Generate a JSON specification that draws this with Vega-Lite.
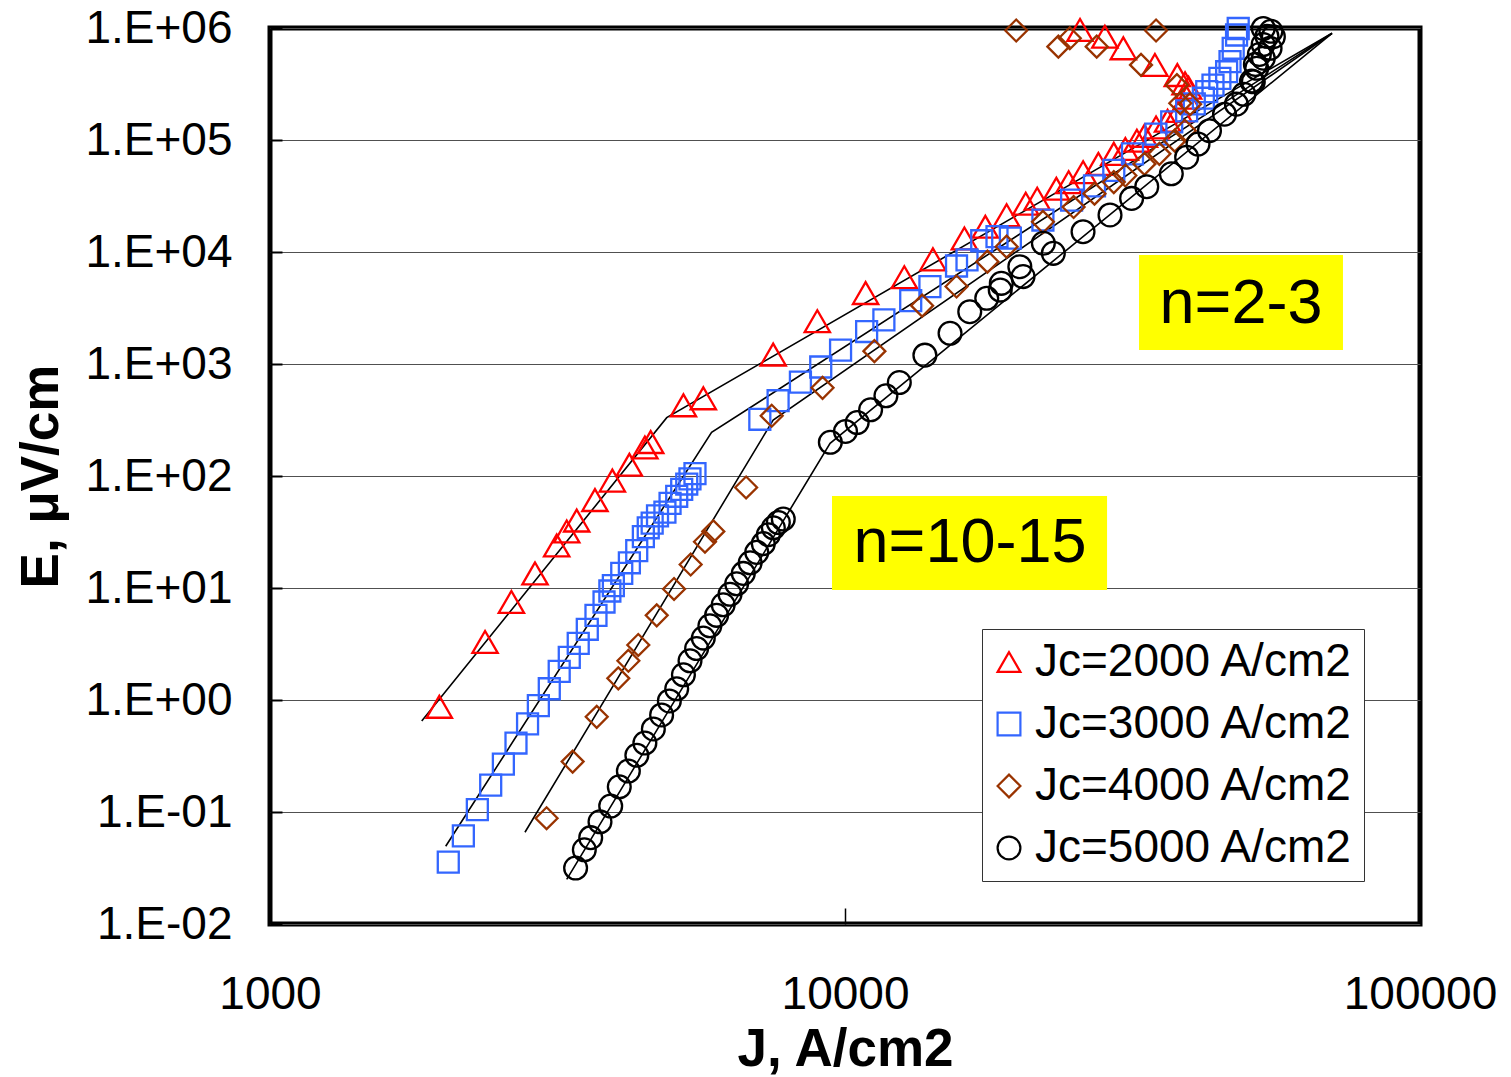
{
 "$schema": "https://vega.github.io/schema/vega-lite/v6.json",
 "width": 1150,
 "height": 896,
 "autosize": {"type": "none"},
 "padding": {"left": 270, "top": 28, "right": 91, "bottom": 153},
 "background": "#FFFFFF",
 "config": {"font": "Liberation Sans", "view": {"stroke": "#000000", "strokeWidth": 5}},
 "datasets": {
  "boxes": [
   {"label": "n=2-3", "J": 32460, "J2": 73460, "E": 9400, "E2": 1334},
   {"label": "n=10-15", "J": 9493, "J2": 28560, "E": 66.3, "E2": 9.6}
  ],
  "notes": [
   {"label": "n=2-3", "J": 48830, "E": 3435},
   {"label": "n=10-15", "J": 16500, "E": 25.2}
  ],
  "fits": [
   {"fit": "2000", "J": 1836, "E": 0.649}, {"fit": "2000", "J": 4897, "E": 332}, {"fit": "2000", "J": 70300, "E": 897000},
   {"fit": "3000", "J": 2021, "E": 0.0494}, {"fit": "3000", "J": 5861, "E": 245}, {"fit": "3000", "J": 70300, "E": 897000},
   {"fit": "4000", "J": 2776, "E": 0.0659}, {"fit": "4000", "J": 7500, "E": 316}, {"fit": "4000", "J": 70300, "E": 897000},
   {"fit": "5000", "J": 3281, "E": 0.025}, {"fit": "5000", "J": 9420, "E": 196}, {"fit": "5000", "J": 70300, "E": 897000}
  ],
  "pts": [
   {"s": "Jc=2000 A/cm2", "J": 1970, "E": 0.87},
   {"s": "Jc=2000 A/cm2", "J": 2366, "E": 3.3},
   {"s": "Jc=2000 A/cm2", "J": 2629, "E": 7.5},
   {"s": "Jc=2000 A/cm2", "J": 2890, "E": 13.5},
   {"s": "Jc=2000 A/cm2", "J": 3152, "E": 24},
   {"s": "Jc=2000 A/cm2", "J": 3281, "E": 32},
   {"s": "Jc=2000 A/cm2", "J": 3415, "E": 40},
   {"s": "Jc=2000 A/cm2", "J": 3674, "E": 61},
   {"s": "Jc=2000 A/cm2", "J": 3939, "E": 91},
   {"s": "Jc=2000 A/cm2", "J": 4217, "E": 126},
   {"s": "Jc=2000 A/cm2", "J": 4487, "E": 180},
   {"s": "Jc=2000 A/cm2", "J": 4593, "E": 201},
   {"s": "Jc=2000 A/cm2", "J": 5236, "E": 428},
   {"s": "Jc=2000 A/cm2", "J": 5670, "E": 494},
   {"s": "Jc=2000 A/cm2", "J": 7500, "E": 1214},
   {"s": "Jc=2000 A/cm2", "J": 8950, "E": 2410},
   {"s": "Jc=2000 A/cm2", "J": 10860, "E": 4300},
   {"s": "Jc=2000 A/cm2", "J": 12680, "E": 5960},
   {"s": "Jc=2000 A/cm2", "J": 14220, "E": 8600},
   {"s": "Jc=2000 A/cm2", "J": 16130, "E": 13200},
   {"s": "Jc=2000 A/cm2", "J": 17540, "E": 16800},
   {"s": "Jc=2000 A/cm2", "J": 19100, "E": 21300},
   {"s": "Jc=2000 A/cm2", "J": 20620, "E": 27000},
   {"s": "Jc=2000 A/cm2", "J": 21590, "E": 29900},
   {"s": "Jc=2000 A/cm2", "J": 23310, "E": 36700},
   {"s": "Jc=2000 A/cm2", "J": 24490, "E": 42000},
   {"s": "Jc=2000 A/cm2", "J": 25950, "E": 51600},
   {"s": "Jc=2000 A/cm2", "J": 27590, "E": 61200},
   {"s": "Jc=2000 A/cm2", "J": 29340, "E": 75200},
   {"s": "Jc=2000 A/cm2", "J": 30730, "E": 83200},
   {"s": "Jc=2000 A/cm2", "J": 32180, "E": 98600},
   {"s": "Jc=2000 A/cm2", "J": 33170, "E": 109000},
   {"s": "Jc=2000 A/cm2", "J": 34750, "E": 129500},
   {"s": "Jc=2000 A/cm2", "J": 36390, "E": 148500},
   {"s": "Jc=2000 A/cm2", "J": 38110, "E": 182000},
   {"s": "Jc=2000 A/cm2", "J": 39280, "E": 239000},
   {"s": "Jc=2000 A/cm2", "J": 39580, "E": 293000},
   {"s": "Jc=2000 A/cm2", "J": 39030, "E": 321000},
   {"s": "Jc=2000 A/cm2", "J": 37840, "E": 380000},
   {"s": "Jc=2000 A/cm2", "J": 34590, "E": 468000},
   {"s": "Jc=2000 A/cm2", "J": 30480, "E": 659000},
   {"s": "Jc=2000 A/cm2", "J": 28310, "E": 836000},
   {"s": "Jc=2000 A/cm2", "J": 25630, "E": 960000},
   {"s": "Jc=3000 A/cm2", "J": 2042, "E": 0.0357},
   {"s": "Jc=3000 A/cm2", "J": 2169, "E": 0.0613},
   {"s": "Jc=3000 A/cm2", "J": 2294, "E": 0.105},
   {"s": "Jc=3000 A/cm2", "J": 2420, "E": 0.174},
   {"s": "Jc=3000 A/cm2", "J": 2546, "E": 0.268},
   {"s": "Jc=3000 A/cm2", "J": 2678, "E": 0.413},
   {"s": "Jc=3000 A/cm2", "J": 2805, "E": 0.613},
   {"s": "Jc=3000 A/cm2", "J": 2929, "E": 0.891},
   {"s": "Jc=3000 A/cm2", "J": 3060, "E": 1.26},
   {"s": "Jc=3000 A/cm2", "J": 3184, "E": 1.8},
   {"s": "Jc=3000 A/cm2", "J": 3315, "E": 2.4},
   {"s": "Jc=3000 A/cm2", "J": 3436, "E": 3.2},
   {"s": "Jc=3000 A/cm2", "J": 3563, "E": 4.28},
   {"s": "Jc=3000 A/cm2", "J": 3689, "E": 5.7},
   {"s": "Jc=3000 A/cm2", "J": 3810, "E": 7.5},
   {"s": "Jc=3000 A/cm2", "J": 3900, "E": 9.4},
   {"s": "Jc=3000 A/cm2", "J": 3955, "E": 10.5},
   {"s": "Jc=3000 A/cm2", "J": 4090, "E": 13.5},
   {"s": "Jc=3000 A/cm2", "J": 4217, "E": 16.8},
   {"s": "Jc=3000 A/cm2", "J": 4343, "E": 21.6},
   {"s": "Jc=3000 A/cm2", "J": 4460, "E": 28.8},
   {"s": "Jc=3000 A/cm2", "J": 4548, "E": 34.5},
   {"s": "Jc=3000 A/cm2", "J": 4620, "E": 38},
   {"s": "Jc=3000 A/cm2", "J": 4720, "E": 44},
   {"s": "Jc=3000 A/cm2", "J": 4862, "E": 47.6},
   {"s": "Jc=3000 A/cm2", "J": 4963, "E": 57},
   {"s": "Jc=3000 A/cm2", "J": 5097, "E": 65.9},
   {"s": "Jc=3000 A/cm2", "J": 5200, "E": 76},
   {"s": "Jc=3000 A/cm2", "J": 5306, "E": 84.8},
   {"s": "Jc=3000 A/cm2", "J": 5375, "E": 94.4},
   {"s": "Jc=3000 A/cm2", "J": 5484, "E": 105},
   {"s": "Jc=3000 A/cm2", "J": 7110, "E": 321},
   {"s": "Jc=3000 A/cm2", "J": 7650, "E": 470},
   {"s": "Jc=3000 A/cm2", "J": 8365, "E": 690},
   {"s": "Jc=3000 A/cm2", "J": 9074, "E": 940},
   {"s": "Jc=3000 A/cm2", "J": 9824, "E": 1330},
   {"s": "Jc=3000 A/cm2", "J": 10905, "E": 1950},
   {"s": "Jc=3000 A/cm2", "J": 11685, "E": 2480},
   {"s": "Jc=3000 A/cm2", "J": 13010, "E": 3680},
   {"s": "Jc=3000 A/cm2", "J": 14050, "E": 4900},
   {"s": "Jc=3000 A/cm2", "J": 15630, "E": 7500},
   {"s": "Jc=3000 A/cm2", "J": 16300, "E": 8500},
   {"s": "Jc=3000 A/cm2", "J": 17290, "E": 12600},
   {"s": "Jc=3000 A/cm2", "J": 18380, "E": 13700},
   {"s": "Jc=3000 A/cm2", "J": 19390, "E": 13300},
   {"s": "Jc=3000 A/cm2", "J": 22090, "E": 19300},
   {"s": "Jc=3000 A/cm2", "J": 24780, "E": 29000},
   {"s": "Jc=3000 A/cm2", "J": 27160, "E": 39000},
   {"s": "Jc=3000 A/cm2", "J": 29340, "E": 53500},
   {"s": "Jc=3000 A/cm2", "J": 31620, "E": 75100},
   {"s": "Jc=3000 A/cm2", "J": 34730, "E": 113000},
   {"s": "Jc=3000 A/cm2", "J": 37000, "E": 145000},
   {"s": "Jc=3000 A/cm2", "J": 39280, "E": 182000},
   {"s": "Jc=3000 A/cm2", "J": 40500, "E": 210000},
   {"s": "Jc=3000 A/cm2", "J": 42000, "E": 236000},
   {"s": "Jc=3000 A/cm2", "J": 42570, "E": 270000},
   {"s": "Jc=3000 A/cm2", "J": 43650, "E": 309000},
   {"s": "Jc=3000 A/cm2", "J": 44870, "E": 355000},
   {"s": "Jc=3000 A/cm2", "J": 46100, "E": 407000},
   {"s": "Jc=3000 A/cm2", "J": 46730, "E": 501000},
   {"s": "Jc=3000 A/cm2", "J": 47330, "E": 659000},
   {"s": "Jc=3000 A/cm2", "J": 47970, "E": 866000},
   {"s": "Jc=3000 A/cm2", "J": 48290, "E": 990000},
   {"s": "Jc=4000 A/cm2", "J": 3027, "E": 0.088},
   {"s": "Jc=4000 A/cm2", "J": 3360, "E": 0.282},
   {"s": "Jc=4000 A/cm2", "J": 3700, "E": 0.708},
   {"s": "Jc=4000 A/cm2", "J": 4034, "E": 1.56},
   {"s": "Jc=4000 A/cm2", "J": 4200, "E": 2.24},
   {"s": "Jc=4000 A/cm2", "J": 4370, "E": 3.1},
   {"s": "Jc=4000 A/cm2", "J": 4705, "E": 5.7},
   {"s": "Jc=4000 A/cm2", "J": 5043, "E": 9.8},
   {"s": "Jc=4000 A/cm2", "J": 5390, "E": 16.2},
   {"s": "Jc=4000 A/cm2", "J": 5708, "E": 25.9},
   {"s": "Jc=4000 A/cm2", "J": 5902, "E": 32},
   {"s": "Jc=4000 A/cm2", "J": 6730, "E": 79},
   {"s": "Jc=4000 A/cm2", "J": 7456, "E": 345},
   {"s": "Jc=4000 A/cm2", "J": 9140, "E": 613},
   {"s": "Jc=4000 A/cm2", "J": 11250, "E": 1303},
   {"s": "Jc=4000 A/cm2", "J": 13620, "E": 3320},
   {"s": "Jc=4000 A/cm2", "J": 15630, "E": 4920},
   {"s": "Jc=4000 A/cm2", "J": 17690, "E": 8200},
   {"s": "Jc=4000 A/cm2", "J": 19100, "E": 11150},
   {"s": "Jc=4000 A/cm2", "J": 22090, "E": 18580},
   {"s": "Jc=4000 A/cm2", "J": 24980, "E": 25200},
   {"s": "Jc=4000 A/cm2", "J": 27160, "E": 33200},
   {"s": "Jc=4000 A/cm2", "J": 29340, "E": 42100},
   {"s": "Jc=4000 A/cm2", "J": 30730, "E": 48200},
   {"s": "Jc=4000 A/cm2", "J": 33170, "E": 61200},
   {"s": "Jc=4000 A/cm2", "J": 35220, "E": 75200},
   {"s": "Jc=4000 A/cm2", "J": 37450, "E": 98600},
   {"s": "Jc=4000 A/cm2", "J": 38990, "E": 121000},
   {"s": "Jc=4000 A/cm2", "J": 39820, "E": 209000},
   {"s": "Jc=4000 A/cm2", "J": 38290, "E": 213000},
   {"s": "Jc=4000 A/cm2", "J": 37780, "E": 309000},
   {"s": "Jc=4000 A/cm2", "J": 32720, "E": 468000},
   {"s": "Jc=4000 A/cm2", "J": 27400, "E": 681000},
   {"s": "Jc=4000 A/cm2", "J": 24600, "E": 810000},
   {"s": "Jc=4000 A/cm2", "J": 23500, "E": 681000},
   {"s": "Jc=4000 A/cm2", "J": 19850, "E": 950000},
   {"s": "Jc=4000 A/cm2", "J": 34750, "E": 950000},
   {"s": "Jc=5000 A/cm2", "J": 3400, "E": 0.0316},
   {"s": "Jc=5000 A/cm2", "J": 3521, "E": 0.046},
   {"s": "Jc=5000 A/cm2", "J": 3612, "E": 0.059},
   {"s": "Jc=5000 A/cm2", "J": 3749, "E": 0.0818},
   {"s": "Jc=5000 A/cm2", "J": 3913, "E": 0.113},
   {"s": "Jc=5000 A/cm2", "J": 4050, "E": 0.168},
   {"s": "Jc=5000 A/cm2", "J": 4200, "E": 0.232},
   {"s": "Jc=5000 A/cm2", "J": 4345, "E": 0.321},
   {"s": "Jc=5000 A/cm2", "J": 4487, "E": 0.413},
   {"s": "Jc=5000 A/cm2", "J": 4642, "E": 0.551},
   {"s": "Jc=5000 A/cm2", "J": 4798, "E": 0.735},
   {"s": "Jc=5000 A/cm2", "J": 4949, "E": 0.98},
   {"s": "Jc=5000 A/cm2", "J": 5097, "E": 1.26},
   {"s": "Jc=5000 A/cm2", "J": 5236, "E": 1.68},
   {"s": "Jc=5000 A/cm2", "J": 5376, "E": 2.24},
   {"s": "Jc=5000 A/cm2", "J": 5520, "E": 2.88},
   {"s": "Jc=5000 A/cm2", "J": 5670, "E": 3.57},
   {"s": "Jc=5000 A/cm2", "J": 5821, "E": 4.6},
   {"s": "Jc=5000 A/cm2", "J": 5980, "E": 5.7},
   {"s": "Jc=5000 A/cm2", "J": 6140, "E": 7.08},
   {"s": "Jc=5000 A/cm2", "J": 6310, "E": 8.79},
   {"s": "Jc=5000 A/cm2", "J": 6480, "E": 10.9},
   {"s": "Jc=5000 A/cm2", "J": 6655, "E": 13.5},
   {"s": "Jc=5000 A/cm2", "J": 6840, "E": 16.8},
   {"s": "Jc=5000 A/cm2", "J": 7023, "E": 20.8},
   {"s": "Jc=5000 A/cm2", "J": 7210, "E": 24.9},
   {"s": "Jc=5000 A/cm2", "J": 7358, "E": 29.9},
   {"s": "Jc=5000 A/cm2", "J": 7506, "E": 34.5},
   {"s": "Jc=5000 A/cm2", "J": 7657, "E": 38.4},
   {"s": "Jc=5000 A/cm2", "J": 7810, "E": 41.3},
   {"s": "Jc=5000 A/cm2", "J": 9430, "E": 200},
   {"s": "Jc=5000 A/cm2", "J": 10020, "E": 250},
   {"s": "Jc=5000 A/cm2", "J": 10500, "E": 300},
   {"s": "Jc=5000 A/cm2", "J": 11080, "E": 390},
   {"s": "Jc=5000 A/cm2", "J": 11780, "E": 520},
   {"s": "Jc=5000 A/cm2", "J": 12430, "E": 683},
   {"s": "Jc=5000 A/cm2", "J": 13770, "E": 1200},
   {"s": "Jc=5000 A/cm2", "J": 15230, "E": 1880},
   {"s": "Jc=5000 A/cm2", "J": 16480, "E": 2930},
   {"s": "Jc=5000 A/cm2", "J": 17640, "E": 3860},
   {"s": "Jc=5000 A/cm2", "J": 18620, "E": 4570},
   {"s": "Jc=5000 A/cm2", "J": 18700, "E": 5250},
   {"s": "Jc=5000 A/cm2", "J": 20140, "E": 7390},
   {"s": "Jc=5000 A/cm2", "J": 20400, "E": 6030},
   {"s": "Jc=5000 A/cm2", "J": 22130, "E": 11970},
   {"s": "Jc=5000 A/cm2", "J": 23030, "E": 9730},
   {"s": "Jc=5000 A/cm2", "J": 25940, "E": 15170},
   {"s": "Jc=5000 A/cm2", "J": 28900, "E": 21400},
   {"s": "Jc=5000 A/cm2", "J": 31510, "E": 30100},
   {"s": "Jc=5000 A/cm2", "J": 33480, "E": 38300},
   {"s": "Jc=5000 A/cm2", "J": 36940, "E": 49900},
   {"s": "Jc=5000 A/cm2", "J": 39280, "E": 70200},
   {"s": "Jc=5000 A/cm2", "J": 41110, "E": 92000},
   {"s": "Jc=5000 A/cm2", "J": 43040, "E": 121000},
   {"s": "Jc=5000 A/cm2", "J": 45710, "E": 170000},
   {"s": "Jc=5000 A/cm2", "J": 47940, "E": 209000},
   {"s": "Jc=5000 A/cm2", "J": 49390, "E": 256000},
   {"s": "Jc=5000 A/cm2", "J": 50940, "E": 336000},
   {"s": "Jc=5000 A/cm2", "J": 51730, "E": 473000},
   {"s": "Jc=5000 A/cm2", "J": 52560, "E": 580000},
   {"s": "Jc=5000 A/cm2", "J": 53360, "E": 711000},
   {"s": "Jc=5000 A/cm2", "J": 54180, "E": 843000},
   {"s": "Jc=5000 A/cm2", "J": 55050, "E": 934000},
   {"s": "Jc=5000 A/cm2", "J": 53390, "E": 990000},
   {"s": "Jc=5000 A/cm2", "J": 55590, "E": 836000},
   {"s": "Jc=5000 A/cm2", "J": 54860, "E": 659000},
   {"s": "Jc=5000 A/cm2", "J": 53390, "E": 537000},
   {"s": "Jc=5000 A/cm2", "J": 52000, "E": 437000},
   {"s": "Jc=5000 A/cm2", "J": 51300, "E": 331000}
  ]
 },
 "encoding": {
  "x": {
   "field": "J", "type": "quantitative",
   "scale": {"type": "log", "domain": [1000, 100000], "nice": false},
   "axis": {
    "title": "J, A/cm2", "values": [1000, 10000, 100000], "format": "d",
    "grid": false, "domain": false, "ticks": true, "tickSize": -16, "tickColor": "#000000", "tickWidth": 1.5,
    "labelFontSize": 46, "labelColor": "#000000", "labelPadding": 64, "labelFlush": false, "labelOverlap": false,
    "titleFontSize": 53, "titleFontWeight": "bold", "titleColor": "#000000", "titlePadding": 6
   }
  },
  "y": {
   "field": "E", "type": "quantitative",
   "scale": {"type": "log", "domain": [0.01, 1000000], "nice": false},
   "axis": {
    "title": "E, μV/cm",
    "values": [0.01, 0.1, 1, 10, 100, 1000, 10000, 100000, 1000000],
    "labelExpr": "'1.E' + (round(log(datum.value)/LN10) < 0 ? '-' : '+') + (abs(round(log(datum.value)/LN10)) < 10 ? '0' : '') + abs(round(log(datum.value)/LN10))",
    "grid": true, "gridColor": "#505050", "gridWidth": 1.2, "gridOpacity": 1,
    "domain": false, "ticks": true, "tickSize": -12, "tickColor": "#000000", "tickWidth": 2,
    "labelFontSize": 46, "labelColor": "#000000", "labelPadding": 50, "labelFlush": false, "labelOverlap": false,
    "titleFontSize": 53, "titleFontWeight": "bold", "titleColor": "#000000", "titlePadding": 16
   }
  }
 },
 "layer": [
  {
   "data": {"name": "boxes"},
   "mark": {"type": "rect", "color": "#FFFF00", "opacity": 1},
   "encoding": {"x2": {"field": "J2"}, "y2": {"field": "E2"}}
  },
  {
   "data": {"name": "notes"},
   "mark": {"type": "text", "fontSize": 63, "align": "center", "baseline": "middle", "color": "#000000"},
   "encoding": {"text": {"field": "label"}}
  },
  {
   "data": {"name": "fits"},
   "mark": {"type": "line", "color": "#000000", "strokeWidth": 1.6},
   "encoding": {"detail": {"field": "fit"}}
  },
  {
   "data": {"name": "pts"},
   "encoding": {
    "shape": {
     "field": "s", "type": "nominal",
     "scale": {"domain": ["Jc=2000 A/cm2", "Jc=3000 A/cm2", "Jc=4000 A/cm2", "Jc=5000 A/cm2"], "range": ["triangle-up", "square", "diamond", "circle"]},
     "legend": {
      "orient": "none", "legendX": 712, "legendY": 601, "title": null,
      "labelFontSize": 46, "labelColor": "#000000", "labelOffset": 3, "labelLimit": 0,
      "symbolSize": 520, "symbolStrokeWidth": 2.2, "symbolOffset": -6,
      "fillColor": "#FFFFFF", "strokeColor": "#333333", "padding": 10, "rowPadding": 16
     }
    },
    "color": {
     "field": "s", "type": "nominal",
     "scale": {"domain": ["Jc=2000 A/cm2", "Jc=3000 A/cm2", "Jc=4000 A/cm2", "Jc=5000 A/cm2"], "range": ["#FF0000", "#3366FF", "#993300", "#000000"]},
     "legend": {
      "orient": "none", "legendX": 712, "legendY": 601, "title": null,
      "labelFontSize": 46, "labelColor": "#000000", "labelOffset": 3, "labelLimit": 0,
      "symbolSize": 520, "symbolStrokeWidth": 2.2, "symbolOffset": -6,
      "fillColor": "#FFFFFF", "strokeColor": "#333333", "padding": 10, "rowPadding": 16
     }
    }
   },
   "layer": [
    {"transform": [{"filter": "datum.s == 'Jc=2000 A/cm2'"}], "mark": {"type": "point", "filled": false, "strokeWidth": 2.3, "opacity": 1, "size": 640}},
    {"transform": [{"filter": "datum.s == 'Jc=3000 A/cm2'"}], "mark": {"type": "point", "filled": false, "strokeWidth": 2.3, "opacity": 1, "size": 440}},
    {"transform": [{"filter": "datum.s == 'Jc=4000 A/cm2'"}], "mark": {"type": "point", "filled": false, "strokeWidth": 2.3, "opacity": 1, "size": 480}},
    {"transform": [{"filter": "datum.s == 'Jc=5000 A/cm2'"}], "mark": {"type": "point", "filled": false, "strokeWidth": 2.3, "opacity": 1, "size": 520}}
   ]
  }
 ]
}
